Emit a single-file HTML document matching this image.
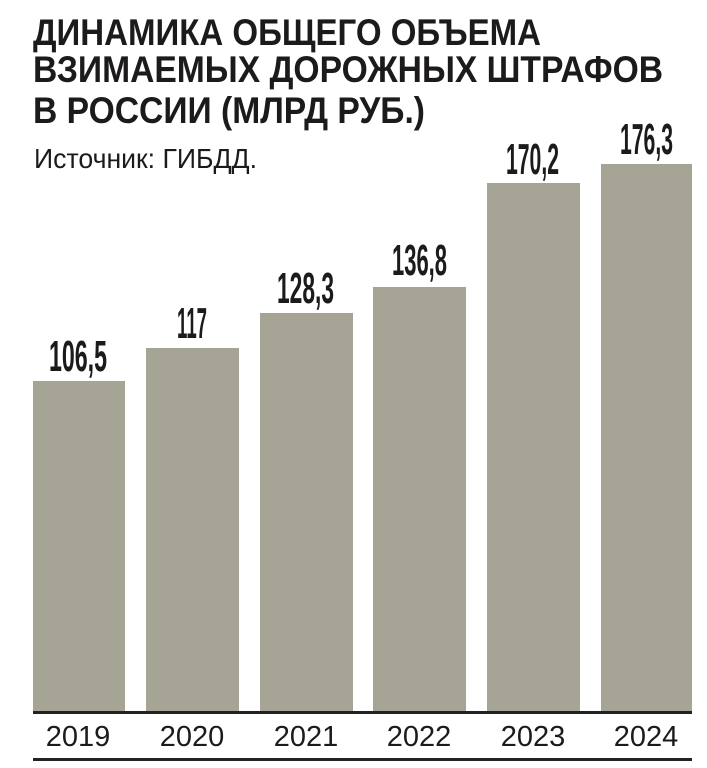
<!DOCTYPE html>
<html>
<head>
<meta charset="utf-8">
<style>
html,body{margin:0;padding:0;background:#fff;}
svg{display:block;}
</style>
</head>
<body>
<svg width="707" height="768" viewBox="0 0 707 768" xmlns="http://www.w3.org/2000/svg">
  <rect x="0" y="0" width="707" height="768" fill="#ffffff"/>
  <g font-family="'Liberation Sans', 'DejaVu Sans', sans-serif" fill="#1c1a1b">
    <text x="33" y="45" font-size="37" font-weight="bold" textLength="508" lengthAdjust="spacingAndGlyphs">ДИНАМИКА ОБЩЕГО ОБЪЕМА</text>
    <text x="33" y="82" font-size="37" font-weight="bold" textLength="630" lengthAdjust="spacingAndGlyphs">ВЗИМАЕМЫХ ДОРОЖНЫХ ШТРАФОВ</text>
    <text x="33" y="123" font-size="37" font-weight="bold" textLength="392" lengthAdjust="spacingAndGlyphs">В РОССИИ (МЛРД РУБ.)</text>
    <text x="34" y="168" font-size="28" textLength="223" lengthAdjust="spacingAndGlyphs">Источник: ГИБДД.</text>
  </g>
  <g fill="#a6a595">
    <rect x="33" y="381" width="92" height="330"/>
    <rect x="146" y="348" width="93" height="363"/>
    <rect x="260" y="313" width="93" height="398"/>
    <rect x="373" y="287" width="93" height="424"/>
    <rect x="487" y="183" width="93" height="528"/>
    <rect x="601" y="164" width="91" height="547"/>
  </g>
  <g font-family="'Liberation Sans', 'DejaVu Sans', sans-serif" font-weight="bold" font-size="44" fill="#1c1a1b">
    <text x="49" y="371" textLength="58" lengthAdjust="spacingAndGlyphs">106,5</text>
    <text x="177" y="338" textLength="30" lengthAdjust="spacingAndGlyphs">117</text>
    <text x="277" y="303" textLength="57" lengthAdjust="spacingAndGlyphs">128,3</text>
    <text x="392" y="275" textLength="55" lengthAdjust="spacingAndGlyphs">136,8</text>
    <text x="506" y="174" textLength="53" lengthAdjust="spacingAndGlyphs">170,2</text>
    <text x="620" y="154" textLength="53" lengthAdjust="spacingAndGlyphs">176,3</text>
  </g>
  <rect x="33" y="711" width="659" height="3" fill="#222222"/>
  <rect x="33" y="758" width="659" height="3" fill="#222222"/>
  <g font-family="'Liberation Sans', 'DejaVu Sans', sans-serif" font-size="29" fill="#1c1a1b" text-anchor="middle">
    <text x="78" y="746">2019</text>
    <text x="192" y="746">2020</text>
    <text x="306" y="746">2021</text>
    <text x="419" y="746">2022</text>
    <text x="533" y="746">2023</text>
    <text x="646" y="746">2024</text>
  </g>
</svg>
</body>
</html>
